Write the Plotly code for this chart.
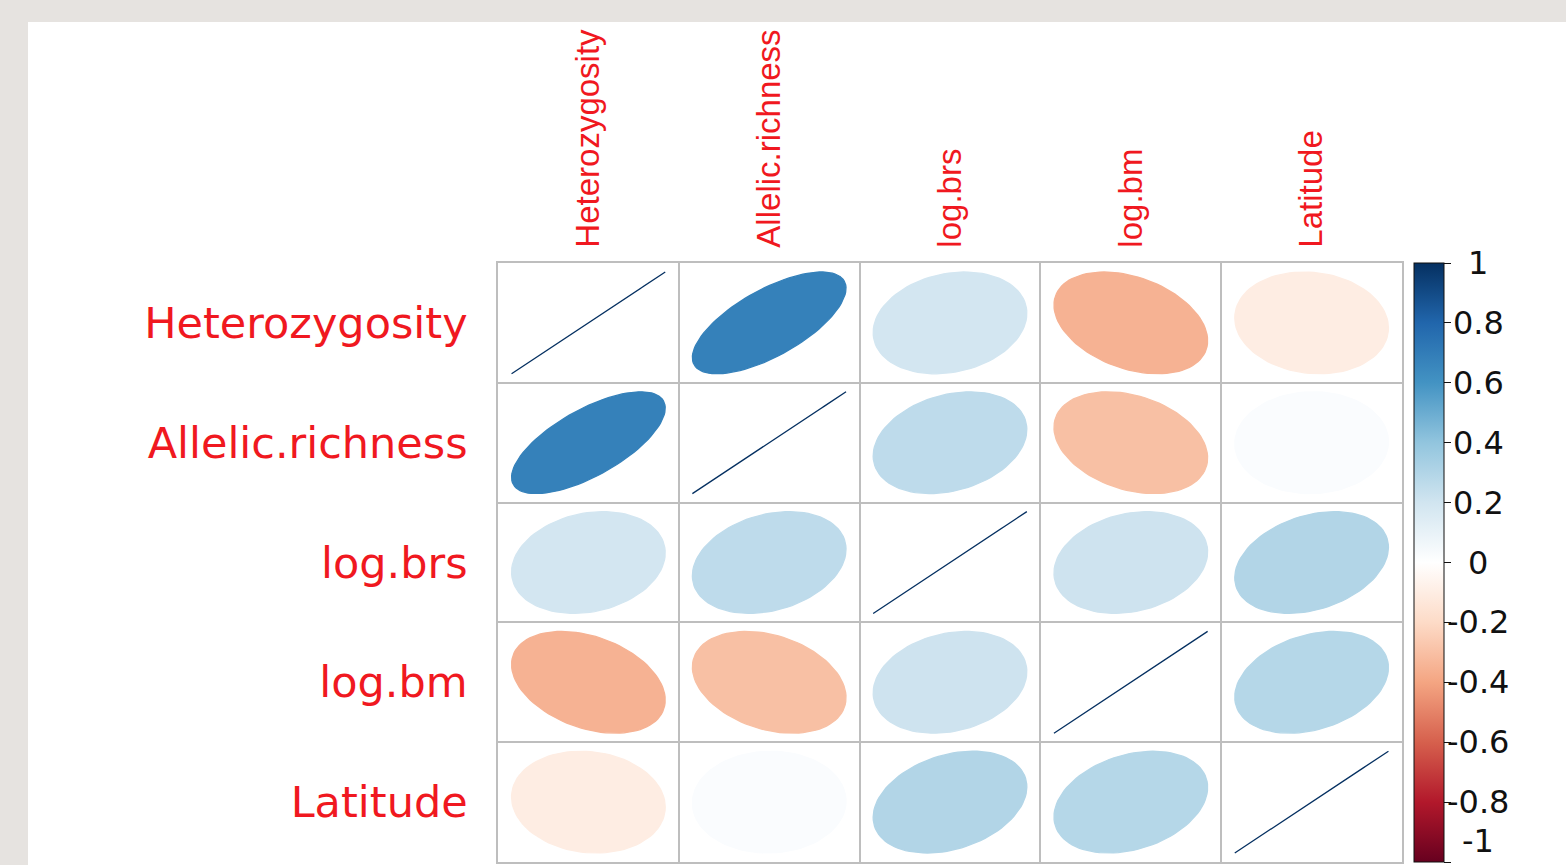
import numpy as np
import plotly.graph_objects as go

# Correlation matrix (rows/columns in the same order)
variables = ["Heterozygosity", "Allelic.richness", "log.brs", "log.bm", "Latitude"]
corr_heterozygosity = [1.00, 0.68, 0.19, -0.35, -0.10]
corr_allelic = [0.68, 1.00, 0.26, -0.30, 0.02]
corr_logbrs = [0.19, 0.26, 1.00, 0.21, 0.30]
corr_logbm = [-0.35, -0.30, 0.21, 1.00, 0.29]
corr_latitude = [-0.10, 0.02, 0.30, 0.29, 1.00]

legend_values = [1, 0.8, 0.6, 0.4, 0.2, 0, -0.2, -0.4, -0.6, -0.8, -1]
legend_labels = ["1", "0.8", "0.6", "0.4", "0.2", "0", "-0.2", "-0.4", "-0.6", "-0.8", "-1"]

corr = np.array([corr_heterozygosity, corr_allelic, corr_logbrs, corr_logbm, corr_latitude])
n = len(variables)

# Diverging red-blue palette from -1 to 1
rdbu = ["#67001F", "#B2182B", "#D6604D", "#F4A582", "#FDDBC7", "#FFFFFF",
        "#D1E5F0", "#92C5DE", "#4393C3", "#2166AC", "#053061"]
stops = np.linspace(-1, 1, len(rdbu))
colorscale = [[(s + 1) / 2, c] for s, c in zip(stops, rdbu)]


def hex_rgb(h):
    h = h.lstrip("#")
    return np.array([int(h[i:i + 2], 16) for i in (0, 2, 4)], dtype=float)


def color_for(r):
    r = float(np.clip(r, -1, 1))
    i = min(int(np.searchsorted(stops, r, side="right")) - 1, len(stops) - 2)
    t = (r - stops[i]) / (stops[i + 1] - stops[i])
    c = hex_rgb(rdbu[i]) * (1 - t) + hex_rgb(rdbu[i + 1]) * t
    return "rgb(%d,%d,%d)" % tuple(np.round(c).astype(int))


# Canvas geometry
W, H = 1566, 865
GL, GR, GT, GB = 498, 1402, 263, 862
gw, gh = GR - GL, GB - GT

fig = go.Figure()

# One ellipse per cell; its eccentricity and tilt follow the correlation
k = np.linspace(0, 2 * np.pi, 99)
for i in range(n):
    for j in range(n):
        r = corr[i, j]
        phi = np.arccos(np.clip(r, -1, 1)) / 2
        ex = 0.85 * np.cos(k + phi) / 2
        ey = 0.85 * np.cos(k - phi) / 2
        col = color_for(r)
        fig.add_trace(go.Scatter(
            x=j + 0.5 + ex, y=i + 0.5 - ey,
            mode="lines", fill="toself", fillcolor=col,
            line=dict(color=col, width=1.3),
            hoverinfo="skip", showlegend=False,
        ))

# Invisible trace carrying the colour legend
fig.add_trace(go.Scatter(
    x=[0.5], y=[0], yaxis="y2", mode="markers",
    marker=dict(size=0.1, opacity=0, color=[0], cmin=-1, cmax=1,
                colorscale=colorscale, showscale=True,
                colorbar=dict(
                    thickness=30, thicknessmode="pixels",
                    len=gh, lenmode="pixels",
                    x=(1414 - GL) / gw, xanchor="left",
                    y=0.5, yanchor="middle", xpad=0, ypad=0,
                    outlinewidth=1, outlinecolor="#111111",
                    tickmode="array", tickvals=legend_values,
                    ticks="outside", ticklen=7, tickcolor="#111111", tickwidth=1,
                    showticklabels=False,
                )),
    hoverinfo="skip", showlegend=False,
))

label_red = "#F01820"
grid_gray = "#BEBEBE"

fig.update_layout(
    width=W, height=H,
    margin=dict(l=GL, r=W - GR, t=GT, b=H - GB, pad=0, autoexpand=False),
    paper_bgcolor="white", plot_bgcolor="white",
    showlegend=False,
    xaxis=dict(
        range=[0, n], side="top", automargin=False,
        tickmode="array", tickvals=[c + 0.5 for c in range(n)], ticktext=variables,
        tickangle=-90, ticks="", ticklabelstandoff=7,
        tickfont=dict(family="Liberation Sans, Arial", size=33, color=label_red),
        showgrid=False, zeroline=False,
        showline=True, mirror=True, linecolor=grid_gray, linewidth=1.5,
        minor=dict(tickmode="array", tickvals=list(range(1, n)), showgrid=True,
                   gridcolor=grid_gray, gridwidth=1.5, ticks=""),
    ),
    yaxis=dict(
        range=[n, 0], automargin=False,
        tickmode="array", tickvals=[c + 0.5 for c in range(n)], ticktext=variables,
        ticks="", ticklabelstandoff=20,
        tickfont=dict(family="DejaVu Sans", size=43, color=label_red),
        showgrid=False, zeroline=False,
        showline=True, mirror=True, linecolor=grid_gray, linewidth=1.5,
        minor=dict(tickmode="array", tickvals=list(range(1, n)), showgrid=True,
                   gridcolor=grid_gray, gridwidth=1.5, ticks=""),
    ),
    yaxis2=dict(range=[-1, 1], overlaying="y", visible=False, automargin=False),
)

# Colour legend labels, placed on the legend's -1..1 scale
for v, lab in zip(legend_values, legend_labels):
    fig.add_annotation(
        x=(1478 - GL) / gw, xref="paper", y=v, yref="y2",
        text=lab, showarrow=False, xanchor="center",
        yanchor="bottom" if v == -1 else "middle",
        font=dict(family="DejaVu Sans", size=32, color="#111111"),
    )

# Gray frame around the white page
frame = "#E6E3E0"
fig.add_shape(type="rect", xref="paper", yref="paper", layer="below",
              x0=-GL / gw, x1=(W - GL) / gw, y0=(GB - 22) / gh, y1=GB / gh,
              fillcolor=frame, line=dict(width=0))
fig.add_shape(type="rect", xref="paper", yref="paper", layer="below",
              x0=-GL / gw, x1=(28 - GL) / gw, y0=(GB - H) / gh, y1=GB / gh,
              fillcolor=frame, line=dict(width=0))

fig.write_html("out.html")
